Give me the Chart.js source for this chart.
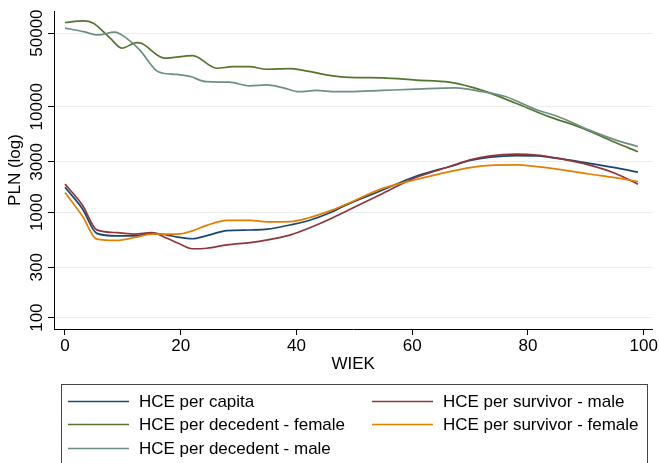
<!DOCTYPE html>
<html>
<head>
<meta charset="utf-8">
<script src="https://cdn.jsdelivr.net/npm/chart.js@4/dist/chart.umd.min.js"></script>
<style>
  html, body { margin: 0; padding: 0; background: #fff; }
  #wrap { width: 659px; height: 463px; }
</style>
</head>
<body>
<div id="wrap"><canvas id="hceChart" width="659" height="463"></canvas></div>
<script>
// ticks
const xTicks = [0, 20, 40, 60, 80, 100];
const yTicks = [100, 300, 1000, 3000, 10000, 50000];

// HCE per decedent - female
const ageDecF = [0, 3.2, 4.9, 7.8, 9.8, 12.4, 13.2, 17.2, 22.1, 26.2, 29, 31.9, 34.8, 38.8, 41, 45.1, 49.1, 54.9, 60.6, 66.4, 72.1, 77.9, 83.6, 89.4, 95, 99];
const decF = [63000, 65300, 62000, 44800, 36000, 40600, 40000, 28900, 30600, 23200, 24000, 24000, 22700, 23000, 22300, 20100, 19000, 18800, 17900, 17100, 14300, 10800, 8070, 6270, 4600, 3750];

// HCE per decedent - male
const ageDecM = [0, 3.2, 5.7, 8.6, 10.6, 12.9, 15.8, 16.9, 19.3, 21.6, 24.4, 28.4, 31.9, 34.8, 37.6, 40.5, 43.4, 46.8, 49.1, 54.9, 60.6, 67.5, 72.1, 76.1, 81.3, 85.9, 90.5, 95.1, 99];
const decM = [55700, 51600, 48000, 51000, 44800, 34700, 22000, 20800, 20300, 19400, 17300, 17100, 15800, 16100, 15200, 13900, 14300, 13900, 13900, 14300, 14700, 15100, 13900, 12500, 9480, 7790, 6040, 4850, 4200];

// per capita and survivors share one age grid
const ageSurv = [0, 3, 5.5, 9, 12, 15, 17.5, 19.5, 22, 24.5, 28, 32, 35, 39, 42, 46, 49, 55, 60.5, 66.5, 70, 73.5, 78, 81.5, 86, 90.5, 95, 99];
const perCapita = [1725, 1080, 630, 596, 596, 630, 610, 580, 560, 600, 668, 678, 690, 760, 830, 1000, 1200, 1630, 2180, 2710, 3090, 3330, 3445, 3420, 3185, 2917, 2650, 2397];
const survM = [1845, 1170, 680, 640, 620, 640, 570, 510, 450, 455, 490, 515, 546, 610, 700, 870, 1050, 1515, 2120, 2710, 3135, 3420, 3550, 3480, 3185, 2810, 2345, 1845];
const survF = [1535, 920, 555, 540, 575, 620, 620, 620, 665, 750, 835, 835, 810, 815, 880, 1040, 1217, 1690, 2030, 2430, 2650, 2780, 2810, 2710, 2520, 2305, 2130, 1950];

const FONT = '"Liberation Sans", Arial, sans-serif';

function pts(ages, vals) {
  return ages.map((a, i) => ({ x: a, y: vals[i] }));
}

function series(label, ages, vals, color, order) {
  return {
    label: label,
    data: pts(ages, vals),
    borderColor: color,
    backgroundColor: color,
    borderWidth: 1.7,
    pointRadius: 0,
    cubicInterpolationMode: 'monotone',
    fill: false,
    order: order
  };
}

// rotated y tick labels, placed with the y scale
const yLabels = {
  id: 'yLabels',
  afterDraw(chart) {
    const ctx = chart.ctx;
    const y = chart.scales.y;
    ctx.save();
    ctx.fillStyle = '#000';
    ctx.font = '17px ' + FONT;
    ctx.textAlign = 'center';
    ctx.textBaseline = 'middle';
    yTicks.forEach(v => {
      ctx.save();
      ctx.translate(37, y.getPixelForValue(v));
      ctx.rotate(-Math.PI / 2);
      ctx.fillText(String(v), 0, 0);
      ctx.restore();
    });
    ctx.restore();
  }
};

// Stata-style boxed legend, two columns
const boxLegend = {
  id: 'boxLegend',
  afterDraw(chart) {
    const ctx = chart.ctx;
    const ds = chart.data.datasets;
    ctx.save();
    ctx.strokeStyle = '#444';
    ctx.lineWidth = 1;
    ctx.strokeRect(61.5, 384.5, 586, 100);
    ctx.font = '17px ' + FONT;
    ctx.fillStyle = '#000';
    ctx.textBaseline = 'middle';
    const rows = [401.5, 424.5, 448.5];
    const cols = [68, 372];
    ds.forEach((d, i) => {
      const cx = cols[i % 2];
      const cy = rows[Math.floor(i / 2)];
      ctx.strokeStyle = d.borderColor;
      ctx.lineWidth = 1.7;
      ctx.beginPath();
      ctx.moveTo(cx, cy);
      ctx.lineTo(cx + 61, cy);
      ctx.stroke();
      ctx.fillText(d.label, cx + 71, cy + 1);
    });
    ctx.restore();
  }
};

new Chart(document.getElementById('hceChart'), {
  type: 'line',
  data: {
    datasets: [
      series('HCE per capita', ageSurv, perCapita, '#1a476f', 5),
      series('HCE per survivor - male', ageSurv, survM, '#90353b', 4),
      series('HCE per decedent - female', ageDecF, decF, '#55752f', 3),
      series('HCE per survivor - female', ageSurv, survF, '#e37e00', 2),
      series('HCE per decedent - male', ageDecM, decM, '#6e8e84', 1)
    ]
  },
  options: {
    responsive: false,
    animation: false,
    layout: { padding: { left: 0, right: 6, top: 11, bottom: 84 } },
    plugins: {
      legend: { display: false },
      tooltip: { enabled: false }
    },
    scales: {
      x: {
        type: 'linear',
        min: -1.9,
        max: 101.5,
        afterBuildTicks: s => { s.ticks = xTicks.map(v => ({ value: v })); },
        afterFit: s => { s.height = 50; },
        grid: { drawOnChartArea: false, drawTicks: true, tickLength: 6, tickColor: '#000' },
        border: { color: '#000', width: 1 },
        ticks: { color: '#000', padding: 1, font: { family: FONT, size: 17 } },
        title: {
          display: true,
          text: 'WIEK',
          color: '#000',
          font: { family: FONT, size: 17, lineHeight: 1.2 },
          padding: { top: 0, bottom: 4 }
        }
      },
      y: {
        type: 'logarithmic',
        min: 78,
        max: 81000,
        afterBuildTicks: s => { s.ticks = yTicks.map(v => ({ value: v })); },
        afterFit: s => { s.width = 54; },
        grid: { color: '#e8eff1', lineWidth: 1, drawTicks: true, tickLength: 6, tickColor: '#000' },
        border: { color: '#000', width: 1 },
        ticks: { display: false },
        title: {
          display: true,
          text: 'PLN (log)',
          color: '#000',
          font: { family: FONT, size: 17, lineHeight: 1.2 },
          padding: { top: 5, bottom: 0 }
        }
      }
    }
  },
  plugins: [yLabels, boxLegend]
});
</script>
</body>
</html>
